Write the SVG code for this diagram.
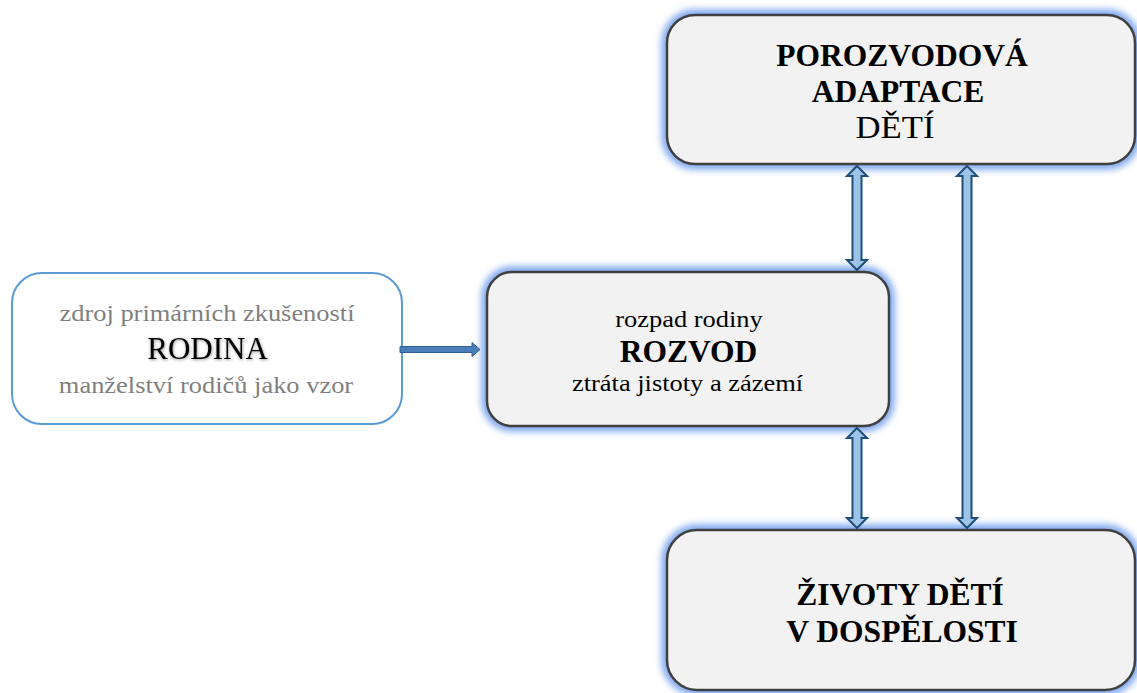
<svg xmlns="http://www.w3.org/2000/svg" width="1137" height="693" viewBox="0 0 1137 693">
  <defs>
    <filter id="glow" x="-10%" y="-20%" width="120%" height="140%">
      <feGaussianBlur stdDeviation="3.5"/>
    </filter>
    <filter id="tshadow" x="-10%" y="-30%" width="120%" height="160%">
      <feDropShadow dx="0.5" dy="1" stdDeviation="1.5" flood-color="#000" flood-opacity="0.45"/>
    </filter>
  </defs>
  <style>
    .main { fill: #F2F2F2; stroke: #404040; stroke-width: 2.5; }
    .halo { fill: none; stroke: #7AA5EE; stroke-width: 11; filter: url(#glow); }
    .src { fill: #FFFFFF; stroke: #5B9BD5; stroke-width: 2; }
    text { font-family: "Liberation Serif", "Times New Roman", serif; text-anchor: middle; }
    .reg { font-size: 23px; fill: #000; }
    .gray { font-size: 23px; fill: #7F7F7F; }
    .bold { font-size: 31.5px; font-weight: bold; fill: #000; }
    .big { font-size: 31px; fill: #000; }
    .dbl { fill: #9DC3E6; stroke: #1F4E79; stroke-width: 2; stroke-linejoin: miter; }
    .blk { fill: #4A7EBB; stroke: #2F5F93; stroke-width: 1; }
  </style>

  <g id="node-rodina">
    <rect class="src" x="12" y="273" width="390" height="151" rx="30" ry="30"/>
    <text class="gray" transform="translate(207 321) scale(1.15 1)">zdroj primárních zkušeností</text>
    <text class="big" x="207.5" y="359" filter="url(#tshadow)">RODINA</text>
    <text class="gray" transform="translate(206 393) scale(1.15 1)">manželství rodičů jako vzor</text>
  </g>

  <g id="node-rozvod">
    <rect class="halo" x="487" y="272" width="402" height="154" rx="25" ry="25"/>
    <rect class="main" x="487" y="272" width="402" height="154" rx="25" ry="25"/>
    <text class="reg" transform="translate(689 327) scale(1.15 1)">rozpad rodiny</text>
    <text class="bold" x="688.5" y="362">ROZVOD</text>
    <text class="reg" transform="translate(687.5 391) scale(1.15 1)">ztráta jistoty a zázemí</text>
  </g>

  <g id="node-adaptace">
    <rect class="halo" x="667" y="15" width="468" height="149" rx="28" ry="28"/>
    <rect class="main" x="667" y="15" width="468" height="149" rx="28" ry="28"/>
    <text class="bold" x="902" y="66">POROZVODOVÁ</text>
    <text class="bold" x="898" y="102">ADAPTACE</text>
    <text class="big" transform="translate(895 138) scale(1.12 1)">DĚTÍ</text>
  </g>

  <g id="node-dospelost">
    <rect class="halo" x="667" y="530" width="468" height="160" rx="30" ry="30"/>
    <rect class="main" x="667" y="530" width="468" height="160" rx="30" ry="30"/>
    <text class="bold" x="900" y="605">ŽIVOTY DĚTÍ</text>
    <text class="bold" x="902" y="642">V DOSPĚLOSTI</text>
  </g>

  <g id="connectors">
    <path class="blk" d="M400,346.5 L472,346.5 L472,342.5 L480,349.5 L472,356.5 L472,352.5 L400,352.5 Z"/>
    <path class="dbl" d="M857,166 L867,176 L861.5,176 L861.5,260 L867,260 L857,270 L847,260 L852.5,260 L852.5,176 L847,176 Z"/>
    <path class="dbl" d="M857,428 L867,438 L861.5,438 L861.5,518 L867,518 L857,528 L847,518 L852.5,518 L852.5,438 L847,438 Z"/>
    <path class="dbl" d="M967,166 L977,176 L971.5,176 L971.5,518 L977,518 L967,528 L957,518 L962.5,518 L962.5,176 L957,176 Z"/>
  </g>
</svg>
